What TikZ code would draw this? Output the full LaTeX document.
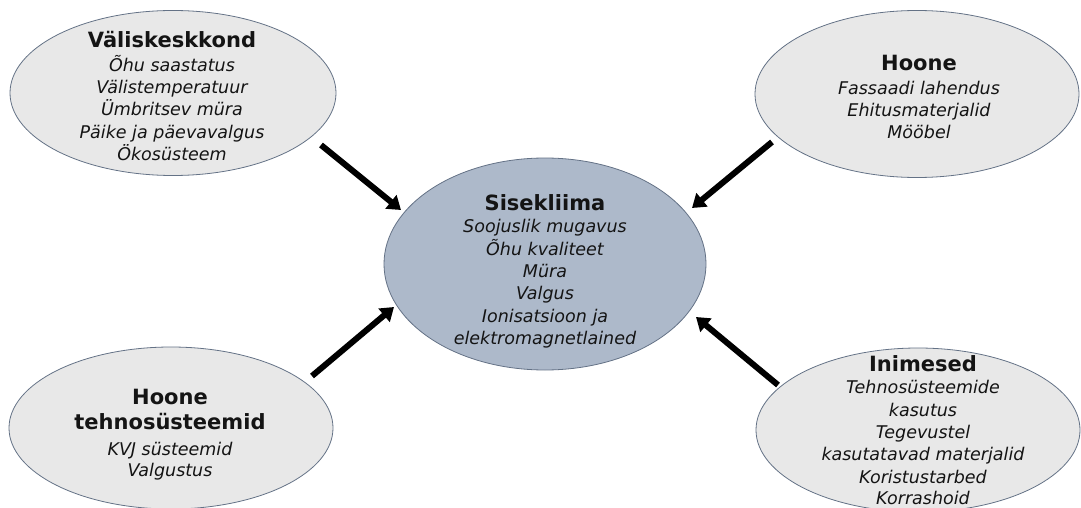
\documentclass[tikz,border=0pt]{standalone}
\usepackage{fontspec}
\setmainfont{DejaVu Sans}
\usetikzlibrary{shapes.geometric,arrows.meta}
\definecolor{outerfill}{RGB}{232,232,232}
\definecolor{centerfill}{RGB}{173,185,202}
\definecolor{edgecol}{RGB}{100,114,134}
\definecolor{txtcol}{RGB}{20,20,20}
\tikzset{
  outer/.style={ellipse, draw=edgecol, line width=0.8pt, fill=outerfill, inner sep=0pt},
  inner/.style={ellipse, draw=edgecol, line width=0.8pt, fill=centerfill, inner sep=0pt},
  txt/.style={align=center, inner sep=0pt, anchor=north, text=txtcol,
     font=\fontsize{17.5}{22.3}\selectfont\itshape},
  arr/.style={line width=6pt, -{Triangle[length=13pt,width=17pt]}},
}
\newcommand{\ttl}[1]{{\fontsize{21}{24}\selectfont\bfseries\upshape #1}}
\begin{document}
\begin{tikzpicture}[x=1pt,y=-1pt]
\useasboundingbox (0,0) rectangle (1081,508);
\node[outer, minimum width=326pt, minimum height=165pt] (env) at (173,93) {};
\node[outer, minimum width=324pt, minimum height=167pt] (bld) at (917,94) {};
\node[outer, minimum width=324pt, minimum height=162pt] (tech) at (171,428) {};
\node[outer, minimum width=324pt, minimum height=164pt] (ppl) at (918,430) {};
\node[inner, minimum width=322pt, minimum height=212pt] (ic) at (545,264) {};

\node[txt] (envt) at (172,31) {\ttl{Väliskeskkond}\\[1.5pt]Õhu saastatus\\Välistemperatuur\\Ümbritsev müra\\Päike ja päevavalgus\\Ökosüsteem};
\node[txt] (bldt) at (919,55) {\ttl{Hoone}\\[1.5pt]Fassaadi lahendus\\Ehitusmaterjalid\\Mööbel};
\node[txt] (ict) at (545,194) {\ttl{Sisekliima}\\[0.5pt]Soojuslik mugavus\\Õhu kvaliteet\\Müra\\Valgus\\Ionisatsioon ja\\elektromagnetlained};
\node[txt] (techt) at (170,389) {\ttl{Hoone}\\[2.5pt]\ttl{tehnosüsteemid}\\[4pt]KVJ süsteemid\\[-1.5pt]Valgustus};
\node[txt] (pplt) at (923,355) {\ttl{Inimesed}\\[0.5pt]Tehnosüsteemide\\kasutus\\Tegevustel\\kasutatavad materjalid\\Koristustarbed\\[-1pt]Korrashoid};

\coordinate (a1s) at (321,145);
\coordinate (a1e) at (401,210);
\coordinate (a2s) at (772,142);
\coordinate (a2e) at (692,208);
\coordinate (a3s) at (312,376);
\coordinate (a3e) at (394,307);
\coordinate (a4s) at (778,385);
\coordinate (a4e) at (696,317);
\draw[arr] (a1s) -- (a1e);
\draw[arr] (a2s) -- (a2e);
\draw[arr] (a3s) -- (a3e);
\draw[arr] (a4s) -- (a4e);
\end{tikzpicture}
\end{document}
